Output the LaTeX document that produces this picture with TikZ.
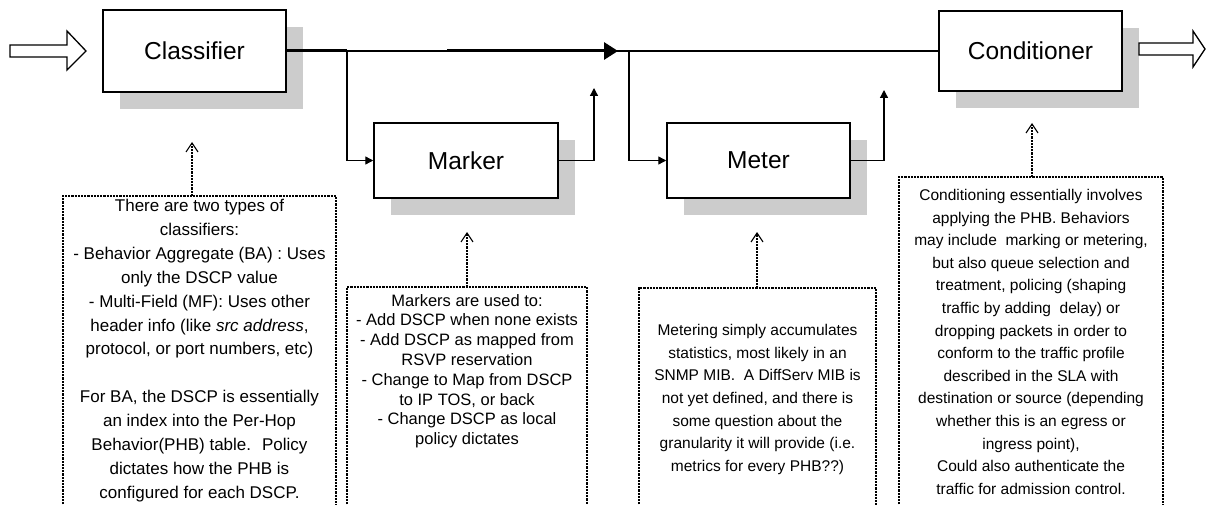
\documentclass[tikz,border=0pt]{standalone}
\usepackage{fontspec}
\setmainfont{Liberation Sans}
\usetikzlibrary{arrows.meta,shadows}
\definecolor{shadowgray}{RGB}{204,204,204}
\begin{document}
\begin{tikzpicture}[x=1pt,y=-1pt,
  box/.style={draw, line width=1.5pt, fill=white, inner sep=0pt,
    font=\fontsize{24.5}{28}\selectfont,
    drop shadow={shadow xshift=17pt, shadow yshift=-17pt, fill=shadowgray, draw=none, opacity=1}},
  conn/.style={line width=1.3pt, -{Triangle[length=8pt,width=8pt]}},
  thinline/.style={line width=1.3pt},
  thickline/.style={line width=3pt},
  notebox/.style={line width=1.1pt, dash pattern=on 2.2pt off 1pt},
  notearrow/.style={line width=1.1pt, dash pattern=on 2.2pt off 1pt, -{Straight Barb[length=9pt,width=12pt]}},
  hollow/.style={line width=1.3pt, fill=white},
  note/.style={align=center, inner sep=0pt, anchor=north}]
\useasboundingbox (0,0) rectangle (1206,505);
\fill[white] (0,0) rectangle (1206,505);
\clip (0,0) rectangle (1206,505);

% main boxes
\node[box, minimum width=183pt, minimum height=82pt] (cls) at (194.5,51) {Classifier};
\node[box, minimum width=184pt, minimum height=75pt] (mrk) at (466,160.5) {Marker};
\node[box, minimum width=183pt, minimum height=75pt] (met) at (758.5,160.5) {Meter};
\node[box, minimum width=183pt, minimum height=80pt] (cnd) at (1030.5,51) {Conditioner};

% hollow in/out arrows
\draw[hollow] (10,45) -- (67,45) -- (67,31) -- (86,51) -- (67,70) -- (67,57) -- (10,57) -- cycle;
\draw[hollow] (1139,43) -- (1193,43) -- (1193,31) -- (1205,49) -- (1193,67) -- (1193,55) -- (1139,55) -- cycle;

% coordinates on the main line
\coordinate (b1) at (347,51);
\coordinate (t1) at (447,51);
\coordinate (t2) at (618,51);
\coordinate (b2) at (629,51);
\coordinate (m1) at (594,88);
\coordinate (m2) at (884,90);

% main line
\draw[thinline] (cls.east) -- (cnd.west);
\draw[thickline] (cls.east) -- (b1);
\draw[thickline, -{Triangle[length=14pt,width=17pt]}] (t1) -- (t2);

% branches
\draw[conn] (b1) |- (mrk.west);
\draw[conn] (b2) |- (met.west);
\draw[conn] (mrk.east) -| (m1);
\draw[conn] (met.east) -| (m2);

% note boxes
\draw[notebox] (63,530) -- (63,196) -- (336,196) -- (336,530);
\draw[notebox] (347,530) -- (347,287) -- (587,287) -- (587,530);
\draw[notebox] (639,530) -- (639,288) -- (876,288) -- (876,530);
\draw[notebox] (899,530) -- (899,177) -- (1163,177) -- (1163,530);

\coordinate (n1top) at (192,196);   \coordinate (n1tip) at (192,142);
\coordinate (n2top) at (467,287);   \coordinate (n2tip) at (467,232);
\coordinate (n3top) at (757,288);   \coordinate (n3tip) at (757,232);
\coordinate (n4top) at (1032,177);  \coordinate (n4tip) at (1032,123);
\draw[notearrow] (n1top) -- (n1tip);
\draw[notearrow] (n2top) -- (n2tip);
\draw[notearrow] (n3top) -- (n3tip);
\draw[notearrow] (n4top) -- (n4tip);

% note texts
\node[note, font=\fontsize{17}{23.9}\selectfont] (clsnote) at (199.5,199) {There are two types of\\
classifiers:\\
- Behavior Aggregate (BA) : Uses\\
only the DSCP value\\
- Multi-Field (MF): Uses other\\
header info (like \textit{src address},\\
protocol, or port numbers, etc)\\
\strut\\
For BA, the DSCP is essentially\\
an index into the Per-Hop\\
Behavior(PHB) table.~ Policy\\
dictates how the PHB is\\
configured for each DSCP.};

\node[note, font=\fontsize{16.5}{19.8}\selectfont] (mrknote) at (467,294) {Markers are used to:\\
- Add DSCP when none exists\\
- Add DSCP as mapped from\\
RSVP reservation\\
- Change to Map from DSCP\\
to IP TOS, or back\\
- Change DSCP as local\\
policy dictates};

\node[note, font=\fontsize{15.5}{22.7}\selectfont] (metnote) at (757.5,324) {Metering simply accumulates\\
statistics, most likely in an\\
SNMP MIB.~ A DiffServ MIB is\\
not yet defined, and there is\\
some question about the\\
granularity it will provide (i.e.\\
metrics for every PHB??)};

\node[note, font=\fontsize{15.5}{22.6}\selectfont] (cndnote) at (1031,189) {Conditioning essentially involves\\
applying the PHB. Behaviors\\
may include~ marking or metering,\\
but also queue selection and\\
treatment, policing (shaping\\
traffic by adding~ delay) or\\
dropping packets in order to\\
conform to the traffic profile\\
described in the SLA with\\
destination or source (depending\\
whether this is an egress or\\
ingress point),\\
Could also authenticate the\\
traffic for admission control.};
\end{tikzpicture}
\end{document}
